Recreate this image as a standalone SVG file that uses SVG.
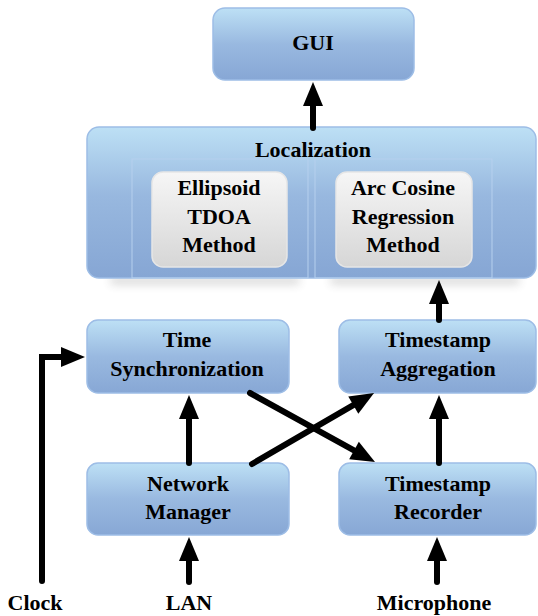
<svg xmlns="http://www.w3.org/2000/svg" width="538" height="616" viewBox="0 0 538 616">
<defs>
<linearGradient id="blue" x1="0" y1="0" x2="0" y2="1">
<stop offset="0" stop-color="#bde0f5"/>
<stop offset="0.5" stop-color="#99b9e0"/>
<stop offset="1" stop-color="#87a7d5"/>
</linearGradient>
<linearGradient id="blueBig" x1="0" y1="0" x2="0" y2="1">
<stop offset="0" stop-color="#bde0f5"/>
<stop offset="0.45" stop-color="#98b8df"/>
<stop offset="1" stop-color="#86a6d4"/>
</linearGradient>
<linearGradient id="gray" x1="0" y1="0" x2="0" y2="1">
<stop offset="0" stop-color="#f6f6f6"/>
<stop offset="1" stop-color="#d6d6d6"/>
</linearGradient>
<filter id="blur" x="-20%" y="-100%" width="140%" height="300%">
<feGaussianBlur stdDeviation="4"/>
</filter>
<marker id="ah" markerUnits="userSpaceOnUse" markerWidth="24" markerHeight="20" refX="0" refY="10" orient="auto" overflow="visible">
<path d="M0,0 L24,10 L0,20 Z" fill="#000"/>
</marker>
</defs>
<style>
.box{fill:url(#blue);stroke:#9dbde6;stroke-width:1.5}
.big{fill:url(#blueBig);stroke:#9dbde6;stroke-width:1.5}
.inner{fill:none;stroke:#b6d0ee;stroke-width:1}
.gbox{fill:url(#gray);stroke:#e6e6e6;stroke-width:1.5}
.t{font-family:'Liberation Serif','Times New Roman',serif;font-weight:bold;font-size:22px;fill:#000;text-anchor:middle}
.c{fill:none;stroke:#000;stroke-width:6;stroke-linecap:round;stroke-linejoin:miter;marker-end:url(#ah)}
</style>
<g id="shadow" filter="url(#blur)" opacity="0.18">
<rect x="110" y="276" width="190" height="9" rx="4" fill="#444"/>
<rect x="330" y="276" width="190" height="9" rx="4" fill="#444"/>
</g>
<g class="t">
<g id="gui">
<rect class="box" x="213" y="8" width="201" height="72" rx="12"/>
<text x="313" y="50">GUI</text>
</g>
<g id="localization">
<rect class="big" x="87" y="127" width="449" height="151" rx="12"/>
<text x="313" y="157">Localization</text>
<rect class="inner" x="132" y="159" width="176" height="119"/>
<rect class="inner" x="315" y="159" width="177" height="119"/>
</g>
<g id="ellipsoid">
<rect class="gbox" x="152" y="172" width="135" height="95" rx="11"/>
<text x="219" y="195">Ellipsoid</text>
<text x="219" y="224">TDOA</text>
<text x="219" y="252">Method</text>
</g>
<g id="arccosine">
<rect class="gbox" x="336" y="172" width="136" height="95" rx="11"/>
<text x="403" y="195">Arc Cosine</text>
<text x="403" y="224">Regression</text>
<text x="403" y="252">Method</text>
</g>
<g id="timesync">
<rect class="box" x="87" y="320" width="202" height="73" rx="11"/>
<text x="187" y="347">Time</text>
<text x="187" y="376">Synchronization</text>
</g>
<g id="aggregation">
<rect class="box" x="339" y="320" width="197" height="73" rx="11"/>
<text x="438" y="347">Timestamp</text>
<text x="438" y="376">Aggregation</text>
</g>
<g id="network">
<rect class="box" x="87" y="463" width="202" height="72" rx="11"/>
<text x="188" y="491">Network</text>
<text x="188" y="519">Manager</text>
</g>
<g id="recorder">
<rect class="box" x="339" y="463" width="197" height="72" rx="11"/>
<text x="438" y="491">Timestamp</text>
<text x="438" y="519">Recorder</text>
</g>
<g id="labels">
<text x="35" y="610">Clock</text>
<text x="189" y="610">LAN</text>
<text x="434" y="610">Microphone</text>
</g>
</g>
<g id="connectors">
<line class="c" x1="313" y1="128" x2="313" y2="106"/>
<line class="c" x1="439" y1="320" x2="439" y2="304"/>
<line class="c" x1="189" y1="463" x2="189" y2="419"/>
<line class="c" x1="439" y1="463" x2="439" y2="419"/>
<line class="c" x1="189" y1="582" x2="189" y2="561"/>
<line class="c" x1="437" y1="582" x2="437" y2="561"/>
<path class="c" d="M42,581 V357 H61"/>
<line class="c" x1="250" y1="393" x2="354" y2="450.4"/>
<line class="c" x1="252" y1="464" x2="353.3" y2="405.1"/>
</g>
</svg>
